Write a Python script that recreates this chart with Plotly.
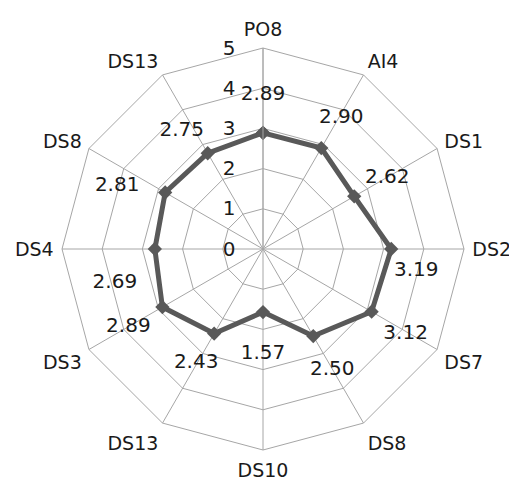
import math
import plotly.graph_objects as go

categories = ["PO8", "AI4", "DS1", "DS2", "DS7", "DS8", "DS10", "DS13", "DS3", "DS4", "DS8", "DS13"]
values = [2.89, 2.90, 2.62, 3.19, 3.12, 2.50, 1.57, 2.43, 2.89, 2.69, 2.81, 2.75]
radial_ticks = [0, 1, 2, 3, 4, 5]

# label offsets in pixels (dx right, dy down) relative to each point
label_dx = [0, 20, 33, 25, 34, 19, 0, -18, -34, -40, -48, -26]
label_dy = [-38, -30, -18, 22, 22, 34, 42, 29, 20, 34, -7, -22]

PAGE_MARGIN = 8  # default html body margin
W, H = 517 - PAGE_MARGIN, 488 - PAGE_MARGIN
cx, cy, R = 263 - PAGE_MARGIN, 249 - PAGE_MARGIN, 201
rmax = 5
px_per_unit = R / rmax

keys = [f"k{i}" for i in range(len(categories))]
n = len(categories)

lab_r, lab_t = [], []
for i, v in enumerate(values):
    th = math.radians(i * 360 / n)
    x = v * math.sin(th) + label_dx[i] / px_per_unit
    y = v * math.cos(th) - label_dy[i] / px_per_unit
    lab_r.append(math.hypot(x, y))
    lab_t.append(math.degrees(math.atan2(x, y)) % 360)

dom_x = [(cx - R) / W, (cx + R) / W]
dom_y = [(H - cy - R) / H, (H - cy + R) / H]

font = "DejaVu Sans"
txt = "#1a1a1a"
grid = "#a6a6a6"
fig = go.Figure()
fig.add_trace(go.Scatterpolar(
    r=values + values[:1], theta=keys + keys[:1],
    mode="lines+markers",
    line=dict(color="#595959", width=5),
    marker=dict(symbol="diamond", size=11, color="#595959"),
    subplot="polar", showlegend=False, hoverinfo="skip",
))
fig.add_trace(go.Scatterpolar(
    r=lab_r, theta=lab_t, mode="text",
    text=[f"{v:.2f}" for v in values],
    textfont=dict(family=font, size=20, color=txt),
    subplot="polar2", showlegend=False, hoverinfo="skip",
))

fig.update_layout(
    width=W, height=H,
    margin=dict(l=0, r=0, t=0, b=0),
    paper_bgcolor="white", plot_bgcolor="white",
    font=dict(family=font, size=20, color=txt),
    polar=dict(
        domain=dict(x=dom_x, y=dom_y),
        bgcolor="white",
        gridshape="linear",
        angularaxis=dict(
            type="category", categoryorder="array", categoryarray=keys,
            tickmode="array", tickvals=keys, ticktext=categories,
            rotation=90, direction="clockwise",
            showline=True, linecolor=grid, linewidth=1,
            showgrid=True, gridcolor=grid, gridwidth=1,
            ticks="outside", ticklen=4, tickcolor="rgba(0,0,0,0)",
            tickfont=dict(family=font, size=19, color=txt),
        ),
        radialaxis=dict(
            range=[0, rmax], tickmode="array", tickvals=radial_ticks,
            ticktext=[str(t) for t in radial_ticks],
            angle=90, tickangle=90, side="counterclockwise",
            showline=True, linecolor=grid, linewidth=1,
            showgrid=True, gridcolor=grid, gridwidth=1,
            ticks="outside", ticklen=20, tickcolor="rgba(0,0,0,0)",
            tickfont=dict(family=font, size=20, color=txt),
        ),
    ),
    polar2=dict(
        domain=dict(x=dom_x, y=dom_y),
        bgcolor="rgba(0,0,0,0)",
        angularaxis=dict(rotation=90, direction="clockwise", thetaunit="degrees",
                         visible=False, showgrid=False, showline=False, showticklabels=False),
        radialaxis=dict(range=[0, rmax], visible=False, showgrid=False,
                        showline=False, showticklabels=False),
    ),
)

fig.write_html("out.html")
